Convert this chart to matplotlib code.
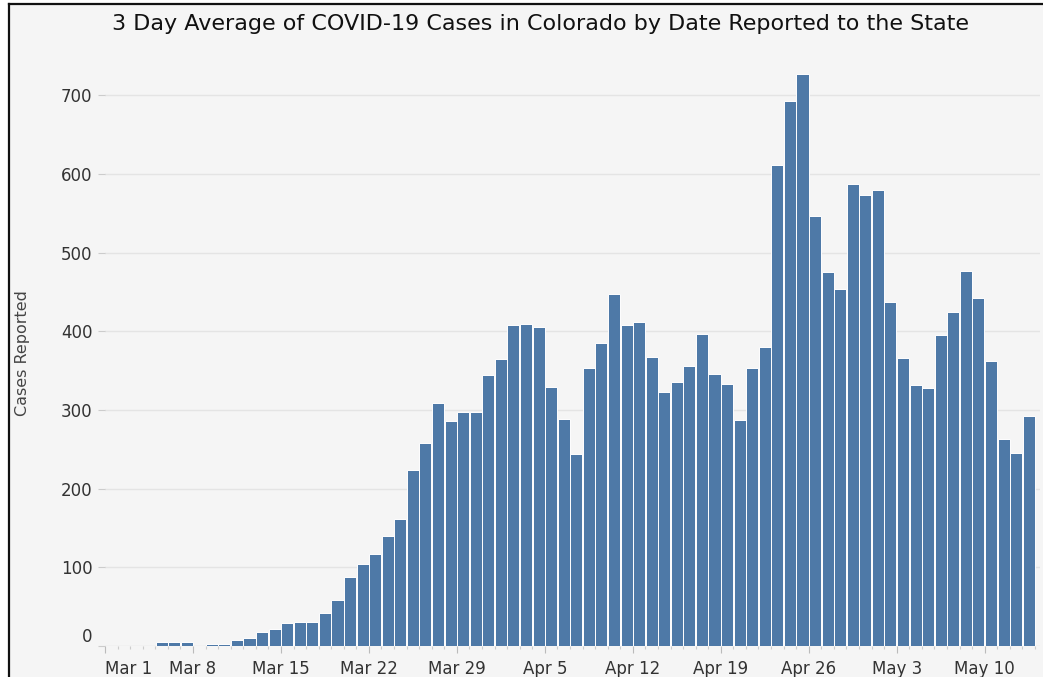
import numpy as np
import matplotlib.pyplot as plt
import matplotlib.patches as mpatches
from matplotlib.ticker import FixedLocator, MultipleLocator

# dias desde el 1 de marzo (0 = Mar 1), promedio de 3 dias
dias = np.arange(74)
casos = [0, 0, 0, 0, 5, 5, 5, 0, 3, 3,
         8, 10, 18, 21, 29, 31, 31, 42, 58, 88, 104,
         117, 140, 162, 224, 258, 309, 286, 298, 298, 344, 365, 408, 409, 406, 329,
         289, 244, 354, 385, 447, 408, 412, 367, 323, 336, 356, 397, 346, 333, 287, 354,
         380, 611, 693, 727, 547, 475, 454, 587, 573, 580, 437, 366, 332, 328,
         395, 424, 477, 442, 362, 263, 245, 292]

tick_dias = [0, 7, 14, 21, 28, 35, 42, 49, 56, 63, 70]
tick_labels = ['Mar 1', 'Mar 8', 'Mar 15', 'Mar 22', 'Mar 29', 'Apr 5',
               'Apr 12', 'Apr 19', 'Apr 26', 'May 3', 'May 10']
y_ticks = [0, 100, 200, 300, 400, 500, 600, 700]

fondo = '#f5f5f5'
azul = '#4e79a7'

fig = plt.figure(figsize=(10.43, 6.77), dpi=100, facecolor=fondo)

# franja blanca fuera del borde negro (arriba y a la izquierda)
W, H = 1043, 677
fig.patches.append(mpatches.Rectangle((0, 0), 8.5 / W, 1, transform=fig.transFigure,
                                      facecolor='white', edgecolor='none', zorder=-10))
fig.patches.append(mpatches.Rectangle((0, 1 - 4 / H), 1, 4 / H, transform=fig.transFigure,
                                      facecolor='white', edgecolor='none', zorder=-10))
fig.add_artist(plt.Line2D([8.5 / W, 8.5 / W], [0, 1 - 4 / H], transform=fig.transFigure,
                          color='#111111', lw=1.6))
fig.add_artist(plt.Line2D([8.5 / W, 1], [1 - 4 / H, 1 - 4 / H], transform=fig.transFigure,
                          color='#111111', lw=1.6))

ax = fig.add_axes([105 / W, 1 - 646 / H, (1040 - 105) / W, (646 - 60) / H])
ax.set_facecolor(fondo)

d = np.array([x for x, v in zip(dias, casos) if v > 0])
v = np.array([v for v in casos if v > 0])
ax.bar(d + 0.5, v, width=0.96, color=azul, edgecolor='white', linewidth=0.7, zorder=3)

ax.set_xlim(0, 74.4)
ax.set_ylim(0, 745)

for s in ax.spines.values():
    s.set_visible(False)

ax.yaxis.set_major_locator(FixedLocator(y_ticks))
ax.grid(axis='y', color='#e4e4e4', linewidth=1, zorder=0)
ax.tick_params(axis='y', length=5, width=0.8, color='#cccccc', pad=4,
               labelsize=12, labelcolor='#333333')

ax.xaxis.set_major_locator(FixedLocator(tick_dias))
ax.xaxis.set_minor_locator(MultipleLocator(1))
ax.set_xticklabels(tick_labels)
ax.tick_params(axis='x', which='major', length=5, width=0.8, color='#bbbbbb', pad=5,
               labelsize=12, labelcolor='#333333')
ax.tick_params(axis='x', which='minor', length=2, width=0.8, color='#cccccc')

lbls = ax.get_xticklabels()
lbls[0].set_horizontalalignment('left')
ylbls = ax.get_yticklabels()
ylbls[0].set_verticalalignment('bottom')

ax.set_ylabel('Cases Reported', fontsize=11.5, color='#444444', labelpad=22)
fig.text(541 / W, 1 - 24 / H,
         '3 Day Average of COVID-19 Cases in Colorado by Date Reported to the State',
         ha='center', va='center', fontsize=16, color='#111111')

fig.savefig('out.png', dpi=100, facecolor=fig.get_facecolor())
